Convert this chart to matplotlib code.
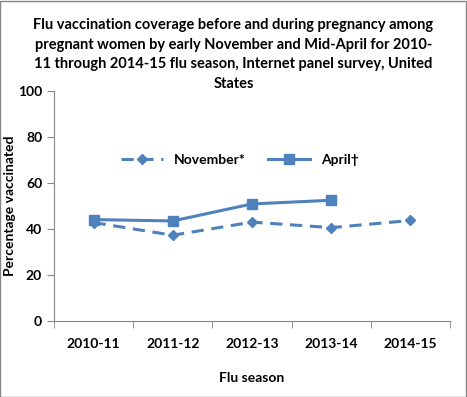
import matplotlib.pyplot as plt
from matplotlib.patches import Rectangle

# Данные
seasons = ["2010-11", "2011-12", "2012-13", "2013-14", "2014-15"]
november = [42.8, 37.3, 43.0, 40.6, 43.7]
april = [44.1, 43.5, 50.9, 52.5]
title_lines = [
    "Flu vaccination coverage before and during pregnancy among",
    "pregnant women by early November and Mid-April for 2010-",
    "11 through 2014-15 flu season, Internet panel survey, United",
    "States",
]

blue = "#4F81BD"
gray = "#868686"
plt.rcParams['font.family'] = ['Lato', 'DejaVu Sans']
plt.rcParams['font.weight'] = 'bold'

fig = plt.figure(figsize=(4.67, 3.97), dpi=100)
fig.patches.append(Rectangle((0.001, 0.001), 0.997, 0.997, transform=fig.transFigure,
                             fill=False, edgecolor=gray, linewidth=1))
ax = fig.add_axes([0.1156, 0.1914, 0.848, 0.5794])

x = list(range(len(seasons)))
ax.plot(x, november, color=blue, linestyle=(0, (4, 2.5)), linewidth=2.2,
        marker="D", markersize=5, label="November*")
ax.plot(x[:len(april)], april, color=blue, linestyle="-", linewidth=2.2,
        marker="s", markersize=7, label="April†")

ax.set_xlim(-0.5, len(seasons) - 0.5)
ax.set_ylim(0, 100)
ax.set_yticks(range(0, 101, 20))
ax.set_xticks(x)
ax.set_xticklabels(seasons)
ax.set_xticks([i - 0.5 for i in range(len(seasons) + 1)], minor=True)
ax.tick_params(axis="x", which="major", length=0, pad=12, labelsize=10)
ax.tick_params(axis="x", which="minor", length=5, color=gray, direction="out")
ax.tick_params(axis="y", length=5, color=gray, labelsize=10)

for side in ["top", "right"]:
    ax.spines[side].set_visible(False)
for side in ["left", "bottom"]:
    ax.spines[side].set_color(gray)

ax.set_xlabel("Flu season", fontsize=10, fontweight="bold", labelpad=16)
ax.set_ylabel("Percentage vaccinated", fontsize=10, fontweight="bold")
ax.yaxis.set_label_coords(-0.097, 0.5)

ax.legend(loc="center", bbox_to_anchor=(0.47, 0.70), ncol=2, frameon=False,
          fontsize=10, handlelength=3, columnspacing=1.6)

# заголовок построчно
for i, line in enumerate(title_lines):
    fig.text(0.5, 1 - (25 + 19.7 * i) / 397, line, ha="center", va="center",
             fontsize=10.5, fontweight="bold")

fig.savefig("out.png", dpi=100)
